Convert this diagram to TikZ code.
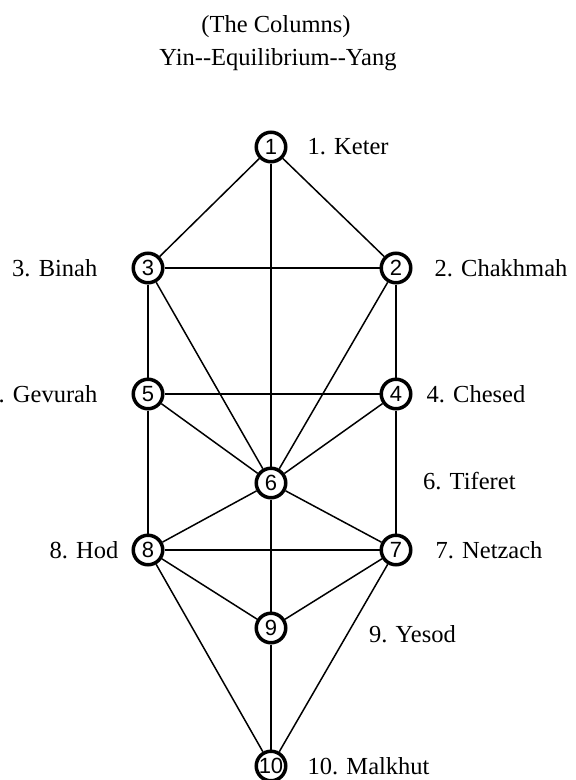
\documentclass[tikz,border=0pt]{standalone}
\usepackage{fontspec}
\setmainfont{Liberation Serif}
\newfontfamily\digitfont{Liberation Sans}
\usetikzlibrary{positioning}

\begin{document}
\begin{tikzpicture}[
  x=1pt, y=-1pt,
  sefira/.style={circle, draw=black, line width=3.5pt, fill=white, minimum size=29.5pt, inner sep=0pt, font=\digitfont\fontsize{22}{22}\selectfont},
  namelabel/.style={inner sep=0pt, font=\fontsize{24.5}{28}\selectfont},
  channel/.style={draw=black, line width=1.5pt},
  spine/.style={draw=black, line width=1.1pt},
]
  \useasboundingbox[fill=white] (0,0) rectangle (576,780);

  % title
  \node[namelabel, anchor=base] (title) at (276,32) {(The Columns)};
  \node[namelabel, anchor=base] (columns) at (278,65) {Yin{-}{-}Equilibrium{-}{-}Yang};

  % the ten sefirot
  \node[sefira] (n1) at (271,147) {1};
  \node[sefira] (n3) at (148,268) {3};
  \node[sefira] (n2) at (396,268) {2};
  \node[sefira] (n5) at (148,394) {5};
  \node[sefira] (n4) at (396,394) {4};
  \node[sefira] (n6) at (271,483) {6};
  \node[sefira] (n8) at (148,550) {8};
  \node[sefira] (n7) at (396,550) {7};
  \node[sefira] (n9) at (271,628) {9};
  \node[sefira] (n10) at (271,766) {10};

  % channels
  \foreach \a/\b in {1/3,1/2,3/2,3/5,3/6,2/4,2/6,5/4,5/8,5/6,4/7,4/6,6/8,6/7,8/7,8/9,8/10,7/9,7/10}
    \draw[channel] (n\a) -- (n\b);
  \foreach \a/\b in {1/6,6/9,9/10}
    \draw[spine] (n\a) -- (n\b);

  % names
  \node[namelabel, right=20pt of n1] (keter) {1. Keter};
  \node[namelabel, left=34pt of n3] (binah) {3. Binah};
  \node[namelabel, right=22pt of n2] (chakhmah) {2. Chakhmah};
  \node[namelabel, left=34pt of n5] (gevurah) {5. Gevurah};
  \node[namelabel, right=14pt of n4] (chesed) {4. Chesed};
  \node[namelabel, anchor=west] (tiferet) at (423,481) {6. Tiferet};
  \node[namelabel, left=13pt of n8] (hod) {8. Hod};
  \node[namelabel, right=23pt of n7] (netzach) {7. Netzach};
  \node[namelabel, anchor=west] (yesod) at (369,634) {9. Yesod};
  \node[namelabel, right=20pt of n10] (malkhut) {10. Malkhut};
\end{tikzpicture}
\end{document}
